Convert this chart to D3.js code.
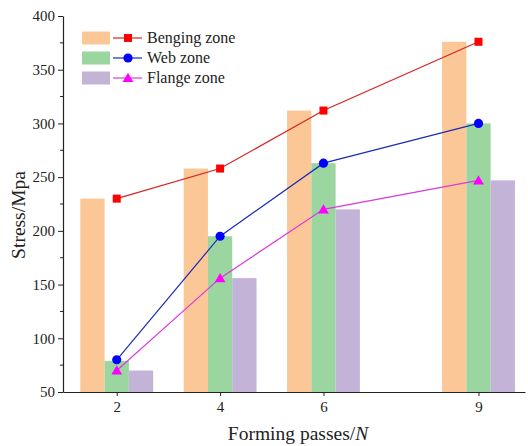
<!DOCTYPE html>
<html><head><meta charset="utf-8">
<script src="https://cdn.jsdelivr.net/npm/d3@7"></script>
<style>body{margin:0;background:#fff}svg{display:block}</style>
</head><body>
<script>
const passes = [2, 4, 6, 9];
const seriesNames = ["Benging zone", "Web zone", "Flange zone"];
const bending = [230, 258, 312, 376];
const web = [79, 195, 263, 300];
const flange = [70, 156, 220, 247];
const bendingLine = [230, 258, 312, 376];
const webLine = [80, 195, 263, 300];
const flangeLine = [70, 156, 220, 247];
const yTicks = [50, 100, 150, 200, 250, 300, 350, 400];

const W = 528, H = 446;
const svg = d3.select("body").append("svg").attr("width", W).attr("height", H);
const font = "Liberation Serif";

const x = d3.scaleLinear().domain([0.96, 9.9]).range([63, 525]);
const y = d3.scaleLinear().domain([50, 400]).range([392, 16]);
const barW = x(2.47) - x(2);

const barColors = ["#FCC797", "#9BD6A0", "#C2B3D7"];
const lineColors = ["#D42424", "#1A2DB8", "#D93BD9"];
const markColors = ["#FF0000", "#0000FF", "#FF00FF"];
const barData = [bending, web, flange];
const lineData = [bendingLine, webLine, flangeLine];

barData.forEach((vals, si) => {
  svg.append("g").selectAll("rect").data(vals).join("rect")
    .attr("x", (d, i) => x(passes[i]) + (si - 1.5) * barW)
    .attr("y", d => y(d))
    .attr("width", barW)
    .attr("height", d => y(50) - y(d))
    .attr("fill", barColors[si]);
});

const line = d3.line().x((d, i) => x(passes[i])).y(d => y(d));
lineData.forEach((vals, si) => {
  svg.append("path").attr("d", line(vals)).attr("fill", "none")
    .attr("stroke", lineColors[si]).attr("stroke-width", 1.2);
});
function marker(g, si, cx, cy) {
  if (si === 0) g.append("rect").attr("x", cx - 4).attr("y", cy - 4).attr("width", 8).attr("height", 8).attr("fill", markColors[0]);
  else if (si === 1) g.append("circle").attr("cx", cx).attr("cy", cy).attr("r", 4.6).attr("fill", markColors[1]);
  else g.append("path").attr("d", d3.symbol(d3.symbolTriangle, 50)()).attr("transform", `translate(${cx},${cy + 1})`).attr("fill", markColors[2]);
}
lineData.forEach((vals, si) => {
  const g = svg.append("g");
  vals.forEach((v, i) => marker(g, si, x(passes[i]), y(v)));
});

const yAxis = d3.axisLeft(y).tickValues(yTicks).tickSize(5).tickPadding(3).tickSizeOuter(0);
const gy = svg.append("g").attr("transform", `translate(63,0)`).call(yAxis);
const minor = d3.range(75, 400, 50);
gy.selectAll(".minor").data(minor).join("line").attr("class", "minor")
  .attr("x1", -3).attr("x2", 0).attr("y1", d => y(d)).attr("y2", d => y(d)).attr("stroke", "#222");
const xAxis = d3.axisBottom(x).tickValues(passes).tickSize(4).tickPadding(5).tickSizeOuter(0);
const gx = svg.append("g").attr("transform", `translate(0,392)`).call(xAxis);
[gx, gy].forEach(g => {
  g.selectAll("path.domain").attr("stroke", "#222").attr("stroke-width", 1.2);
  g.selectAll(".tick line").attr("stroke", "#222");
  g.selectAll("text").style("font-family", font).style("font-size", "15px").attr("fill", "#222");
});

svg.append("text").attr("transform", "translate(25,215) rotate(-90)").attr("text-anchor", "middle")
  .style("font-family", font).style("font-size", "19.5px").attr("fill", "#222").text("Stress/Mpa");
const xt = svg.append("text").attr("x", 298).attr("y", 440).attr("text-anchor", "middle")
  .style("font-family", font).style("font-size", "19.5px").attr("fill", "#222");
xt.append("tspan").text("Forming passes/");
xt.append("tspan").style("font-style", "italic").text("N");

const lg = svg.append("g");
seriesNames.forEach((name, si) => {
  const cy = 38 + si * 20;
  lg.append("rect").attr("x", 82).attr("y", cy - 6.5).attr("width", 28).attr("height", 13).attr("fill", barColors[si]);
  lg.append("line").attr("x1", 113).attr("x2", 142).attr("y1", cy).attr("y2", cy)
    .attr("stroke", lineColors[si]).attr("stroke-width", 1.2);
  marker(lg, si, 128, cy);
  lg.append("text").attr("x", 147).attr("y", cy + 5).style("font-family", font).style("font-size", "16px")
    .attr("fill", "#222").text(name);
});
</script>
</body></html>
